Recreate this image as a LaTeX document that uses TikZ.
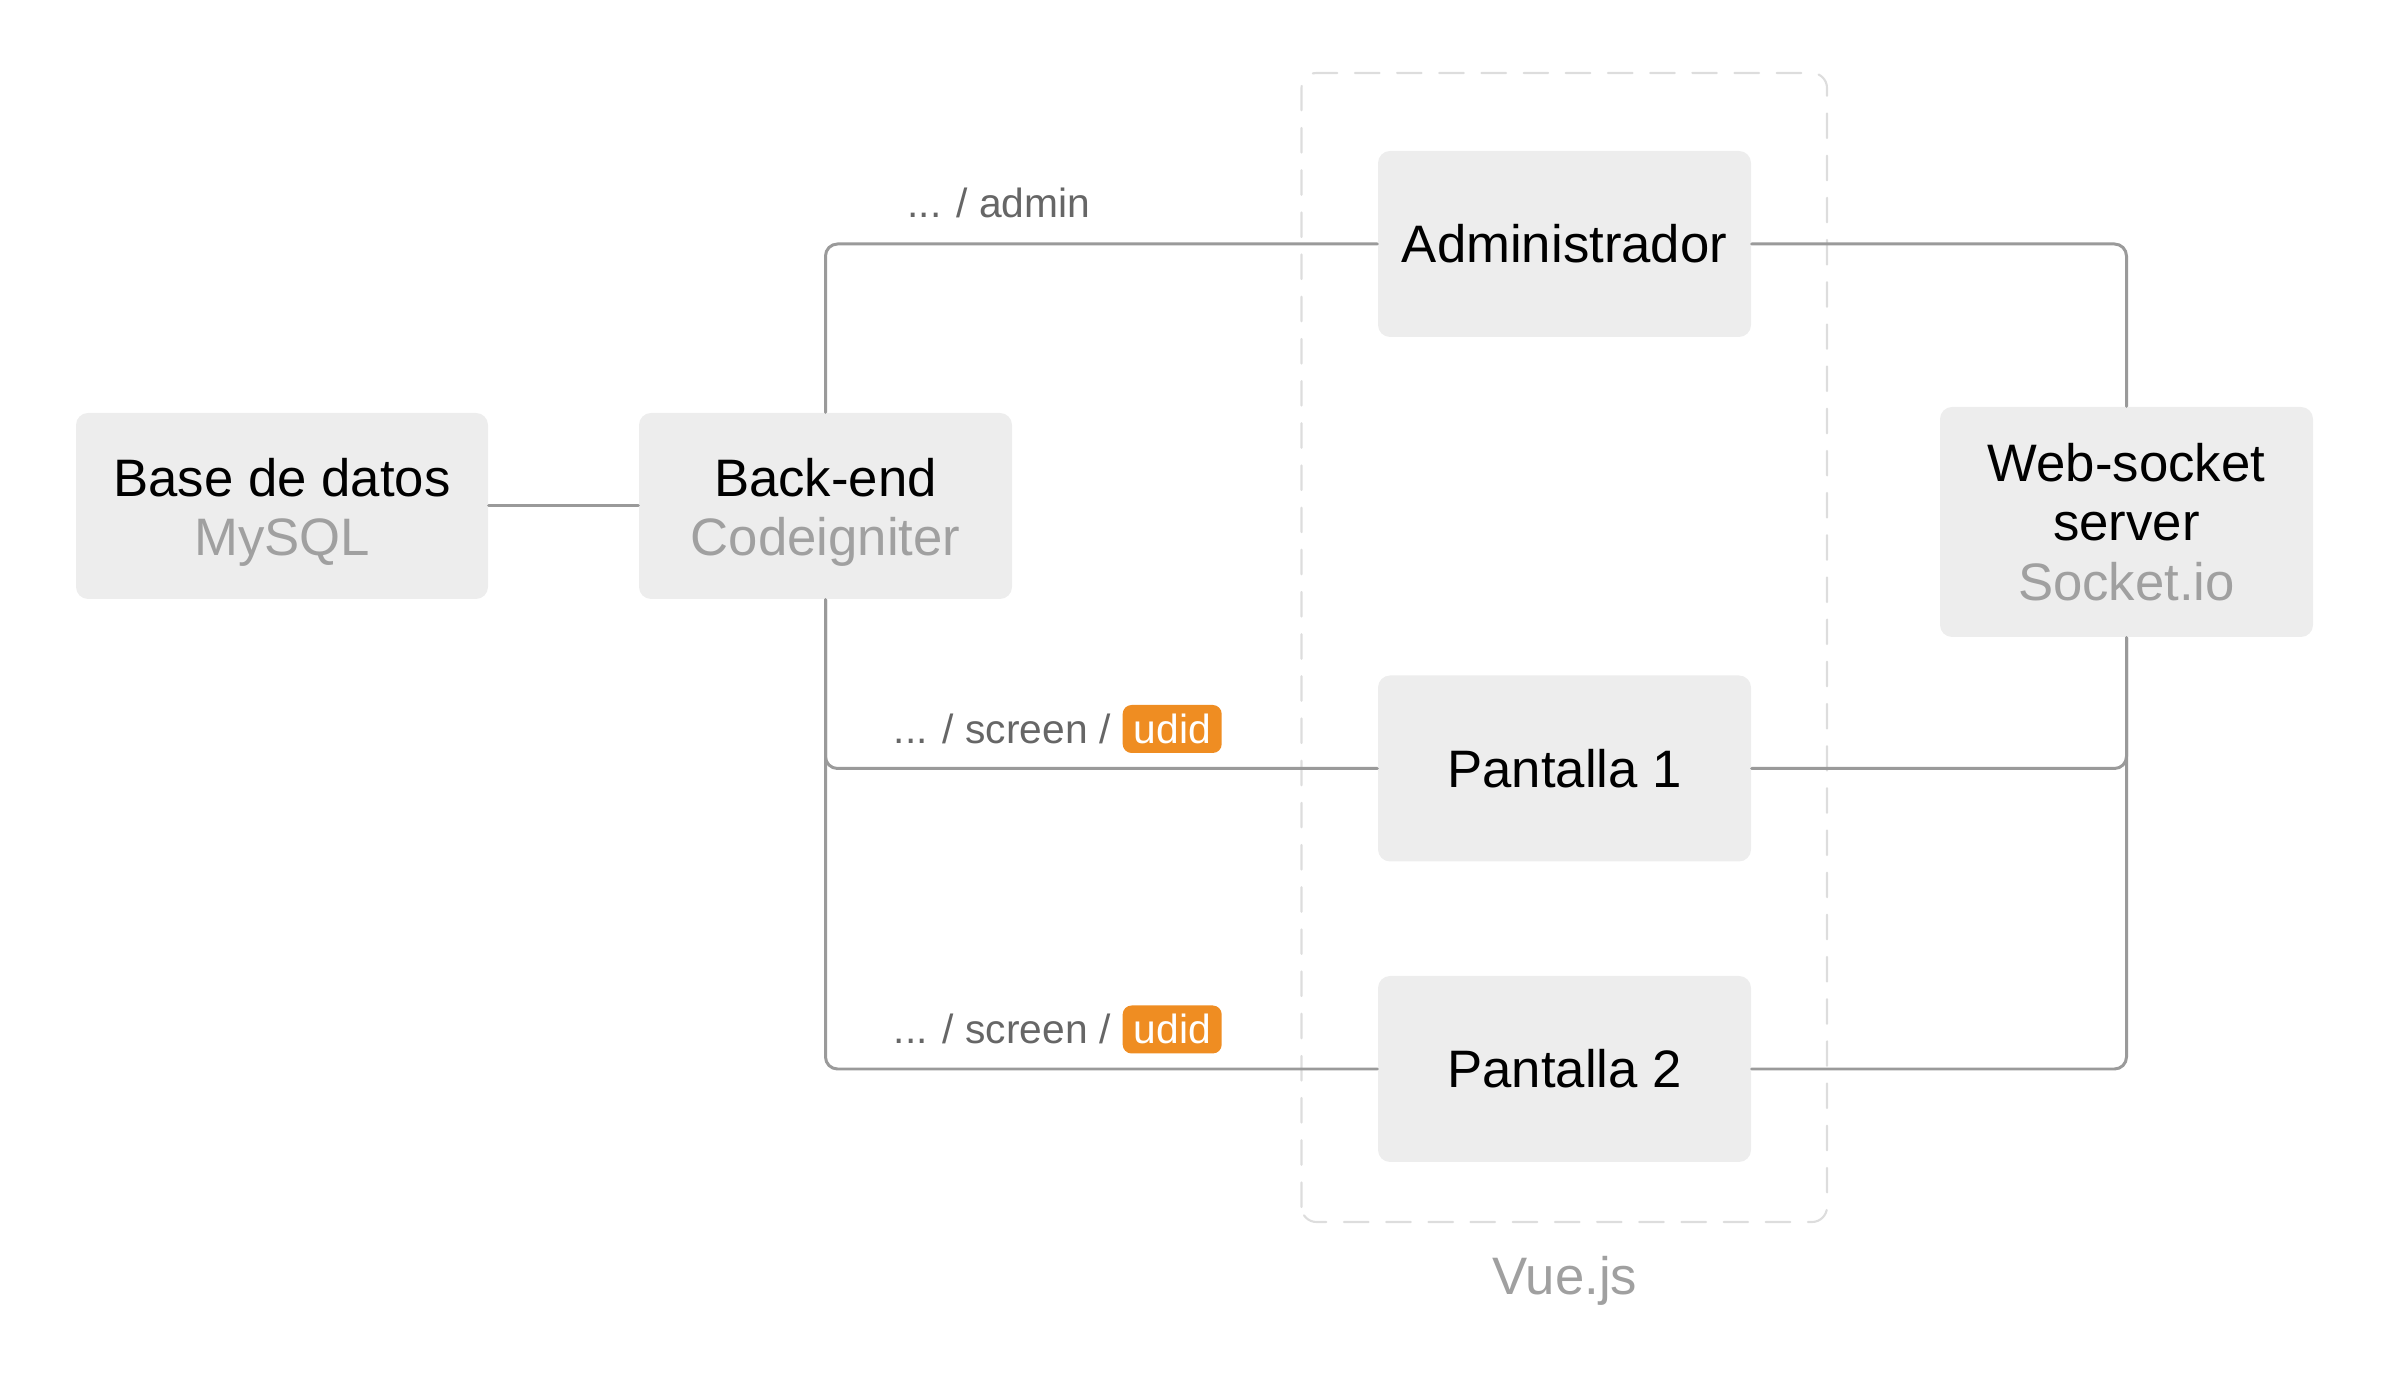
\documentclass[tikz,border=0pt]{standalone}
\usepackage{fontspec}
\setmainfont{Liberation Sans}
\usetikzlibrary{positioning}
\definecolor{nen}{HTML}{EDEDED}
\definecolor{duong}{HTML}{9A9A9A}
\definecolor{mo}{HTML}{A0A0A0}
\definecolor{chu}{HTML}{666666}
\definecolor{cam}{HTML}{EF8D22}
\definecolor{vien}{HTML}{DDDDDD}
\begin{document}
\begin{tikzpicture}[line join = round, line cap=round,font=\fontsize{15}{17}\selectfont,
	khoi/.style={fill=nen, rounded corners=1.2mm, align=center, minimum width=3.73cm, minimum height=1.86cm, inner sep=0pt},
	noi/.style={draw=duong, line width=0.85pt, rounded corners=1.2mm},
	nhan/.style={text=chu, font=\fontsize{11.6}{14}\selectfont, inner sep=0pt, anchor=base, yshift=0.25cm},
	the/.style={fill=cam, text=white, font=\fontsize{11.6}{14}\selectfont, rounded corners=0.9mm, inner xsep=0.11cm, inner ysep=0.095cm, text height=0.29cm, text depth=0pt}]
	\useasboundingbox (0,0) rectangle (23.89,13.88);
	\def \h{\rule{0pt}{0.51cm}}
	\path 
	(2.82,8.82) coordinate (D)
	(8.255,8.82) coordinate (B)
	(15.645,11.44) coordinate (A)
	(15.645,6.195) coordinate (P1)
	(15.645,3.19) coordinate (P2)
	(21.265,8.66) coordinate (W)
	; 
	% khung Vue.js
	\draw[vien, line width=0.6pt, dash pattern=on 7pt off 5pt, rounded corners=1.5mm] (13.015,1.66) rectangle (18.27,13.15);
	\node[text=mo] (vue) at (15.65,1.07) {Vue.js};
	% cac khoi
	\node[khoi, minimum width=4.12cm] (db) at (D) {\h Base de datos\\\textcolor{mo}{MySQL}};
	\node[khoi] (be) at (B) {\h Back-end\\\textcolor{mo}{Codeigniter}};
	\node[khoi] (adm) at (A) {Administrador};
	\node[khoi] (p1) at (P1) {Pantalla 1};
	\node[khoi] (p2) at (P2) {Pantalla 2};
	\node[khoi, minimum height=2.30cm] (ws) at (W) {Web-socket\\server\\\textcolor{mo}{Socket.io}};
	% duong noi
	\draw[noi] (db)--(be);
	\draw[noi] (be.north) |- node[nhan, pos=.657, yshift=0.01cm] (sa) {... / admin} (adm.west);
	\draw[noi] (be.south) |- node[nhan, pos=.66] (s1) {... / screen /} (p1.west);
	\draw[noi] (be.south) |- node[nhan, pos=.66] (s2) {... / screen /} (p2.west);
	\draw[noi] (adm.east) -| (ws.north);
	\draw[noi] (ws.south) |- (p1.east);
	\draw[noi] (ws.south) |- (p2.east);
	\foreach \ten/\goc in {u1/s1,u2/s2}
	\node[the, anchor=base west] (\ten) at ([xshift=0.1cm]\goc.base east) {udid};
\end{tikzpicture}
\end{document}
